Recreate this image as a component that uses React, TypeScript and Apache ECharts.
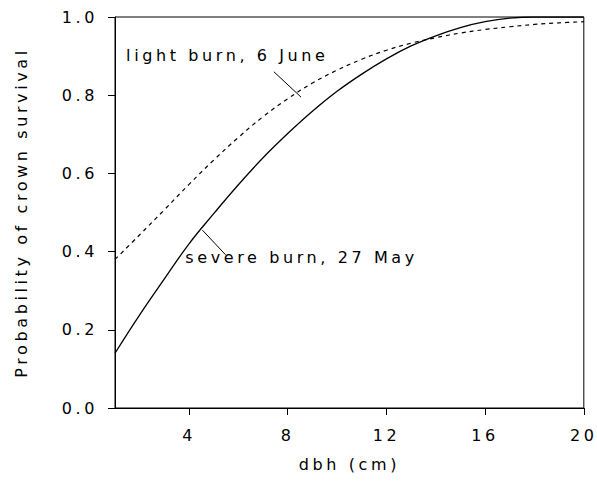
import React, { useEffect, useRef } from "react";
import * as echarts from "echarts";

const dbh = [1, 2, 3, 4, 5, 6, 7, 8, 9, 10, 11, 12, 13, 14, 15, 16, 17, 18, 19, 20];
const severeBurn = [0.14, 0.238, 0.33, 0.42, 0.497, 0.571, 0.64, 0.702, 0.759, 0.81, 0.854, 0.893, 0.926, 0.952, 0.973, 0.988, 0.997, 1.0, 1.0, 1.0];
const lightBurn = [0.38, 0.443, 0.507, 0.572, 0.634, 0.692, 0.745, 0.791, 0.831, 0.864, 0.892, 0.915, 0.933, 0.947, 0.959, 0.968, 0.975, 0.981, 0.985, 0.988];
const xTicks = [4, 8, 12, 16, 20];

const severeLabel = "severe burn, 27 May";
const lightLabel = "light burn, 6 June";
const severeLabelAt = [3.85, 0.384];
const lightLabelAt = [1.45, 0.902];
const severePointer = [[4.54, 0.455], [5.48, 0.392]];
const lightPointer = [[7.44, 0.86], [8.54, 0.795]];

const FONT = "DejaVu Sans";
const INK = "#000";

export default function App() {
  const ref = useRef<HTMLDivElement>(null);
  useEffect(() => {
    if (!ref.current) return;
    const chart = echarts.init(ref.current, undefined, { renderer: "svg" });
    const textStyle = { color: INK, fontFamily: FONT, fontSize: 16 };
    const pointerLine = (pts: number[][]) => ({
      silent: true,
      symbol: ["none", "none"],
      label: { show: false },
      lineStyle: { color: INK, width: 1, type: "solid" },
      data: [[{ coord: pts[0] }, { coord: pts[1] }]],
    });
    const labelPoint = (at: number[], text: string) => ({
      silent: true,
      symbol: "circle",
      symbolSize: 0,
      itemStyle: { color: "transparent" },
      label: { show: true, position: "right", distance: 0, formatter: text, ...textStyle },
      data: [{ coord: at }],
    });
    chart.setOption({
      animation: false,
      backgroundColor: "#fff",
      grid: { left: 115, right: 13, top: 17, bottom: 73, show: true, borderColor: INK, borderWidth: 1, backgroundColor: "transparent" },
      xAxis: {
        type: "value",
        min: 1,
        max: 20,
        name: "dbh (cm)",
        nameLocation: "middle",
        nameGap: 48,
        nameTextStyle: textStyle,
        axisLine: { show: true, lineStyle: { color: INK, width: 1 } },
        axisTick: { show: true, inside: false, length: 7, customValues: xTicks, lineStyle: { color: INK } },
        axisLabel: { customValues: xTicks, margin: 19, ...textStyle },
        splitLine: { show: false },
      },
      yAxis: {
        type: "value",
        min: 0,
        max: 1,
        interval: 0.2,
        name: "Probability of crown survival",
        nameLocation: "middle",
        nameGap: 86,
        nameTextStyle: textStyle,
        axisLine: { show: true, lineStyle: { color: INK, width: 1 } },
        axisTick: { show: true, inside: false, length: 7, lineStyle: { color: INK } },
        axisLabel: { margin: 17, formatter: (v: number) => v.toFixed(1), ...textStyle },
        splitLine: { show: false },
      },
      series: [
        {
          type: "line",
          name: severeLabel,
          data: dbh.map((x, i) => [x, severeBurn[i]]),
          smooth: 0.4,
          showSymbol: false,
          lineStyle: { color: INK, width: 1.3, type: "solid" },
          markLine: pointerLine(severePointer),
          markPoint: labelPoint(severeLabelAt, severeLabel),
        },
        {
          type: "line",
          name: lightLabel,
          data: dbh.map((x, i) => [x, lightBurn[i]]),
          smooth: 0.4,
          showSymbol: false,
          lineStyle: { color: INK, width: 1.2, type: [4, 4] },
          markLine: pointerLine(lightPointer),
          markPoint: labelPoint(lightLabelAt, lightLabel),
        },
      ],
    });
    return () => chart.dispose();
  }, []);
  return (
    <>
      <style>{`.chart-box svg text { letter-spacing: 3.6px; }`}</style>
      <div
        ref={ref}
        className="chart-box"
        style={{ position: "fixed", left: 0, top: 0, width: 597, height: 481 }}
      />
    </>
  );
}
